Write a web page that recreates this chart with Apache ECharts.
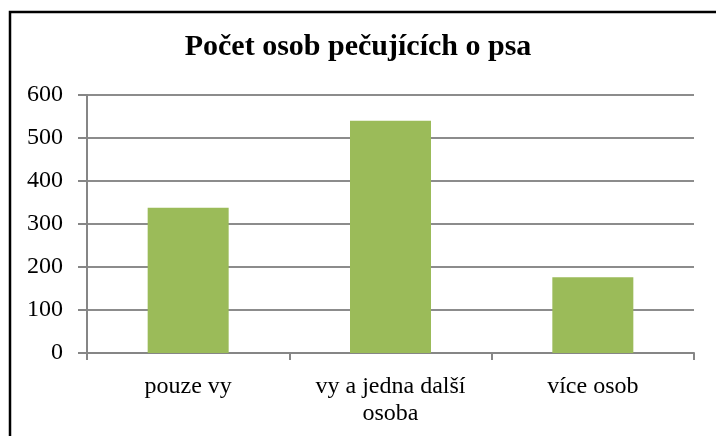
<!DOCTYPE html>
<html>
<head>
<meta charset="utf-8">
<script src="https://cdn.jsdelivr.net/npm/echarts@6/dist/echarts.min.js"></script>
<style>
html,body{margin:0;padding:0;background:#fff;}
#chart{width:716px;height:436px;}
</style>
</head>
<body>
<div id="chart"></div>
<script>
// Počet osob pečujících o psa
var titleText = 'Počet osob pečujících o psa';
var categories = ['pouze vy', 'vy a jedna další\nosoba', 'více osob'];
var values = [338, 540, 176];
var yTicks = [0, 100, 200, 300, 400, 500, 600];

(function(){
	var font = '"Liberation Serif", "Times New Roman", serif';
	var option = {
		backgroundColor: '#fff',
		animation: false,
		title: {
			text: titleText,
			left: 'center',
			top: 27,
			textStyle: { fontFamily: font, fontSize: 30, fontWeight: 'bold', color: '#000' }
		},
		graphic: [{
			type: 'polyline',
			shape: { points: [[10, 436], [10, 12], [716, 12]] },
			style: { stroke: '#000', lineWidth: 2.5, fill: null }
		}],
		grid: { left: 87, right: 22, top: 95, bottom: 83 },
		xAxis: {
			type: 'category',
			data: categories,
			axisLine: { lineStyle: { color: '#868686', width: 2 } },
			axisTick: { show: true, length: 7, lineStyle: { color: '#868686', width: 2 } },
			axisLabel: { fontFamily: font, fontSize: 24, color: '#000', margin: 20, lineHeight: 27 }
		},
		yAxis: {
			type: 'value',
			min: yTicks[0],
			max: yTicks[yTicks.length - 1],
			interval: 100,
			axisLine: { show: true, lineStyle: { color: '#868686', width: 2 } },
			axisTick: { show: true, length: 9, lineStyle: { color: '#868686', width: 2 } },
			splitLine: { lineStyle: { color: '#8c8c8c', width: 2 } },
			axisLabel: { fontFamily: font, fontSize: 24, color: '#000', margin: 24 }
		},
		series: [{
			type: 'bar',
			data: values,
			barWidth: 81,
			itemStyle: { color: '#9bbb59' }
		}]
	};
	var myChart = echarts.init(document.getElementById('chart'));
	myChart.setOption(option);
})();
</script>
</body>
</html>
